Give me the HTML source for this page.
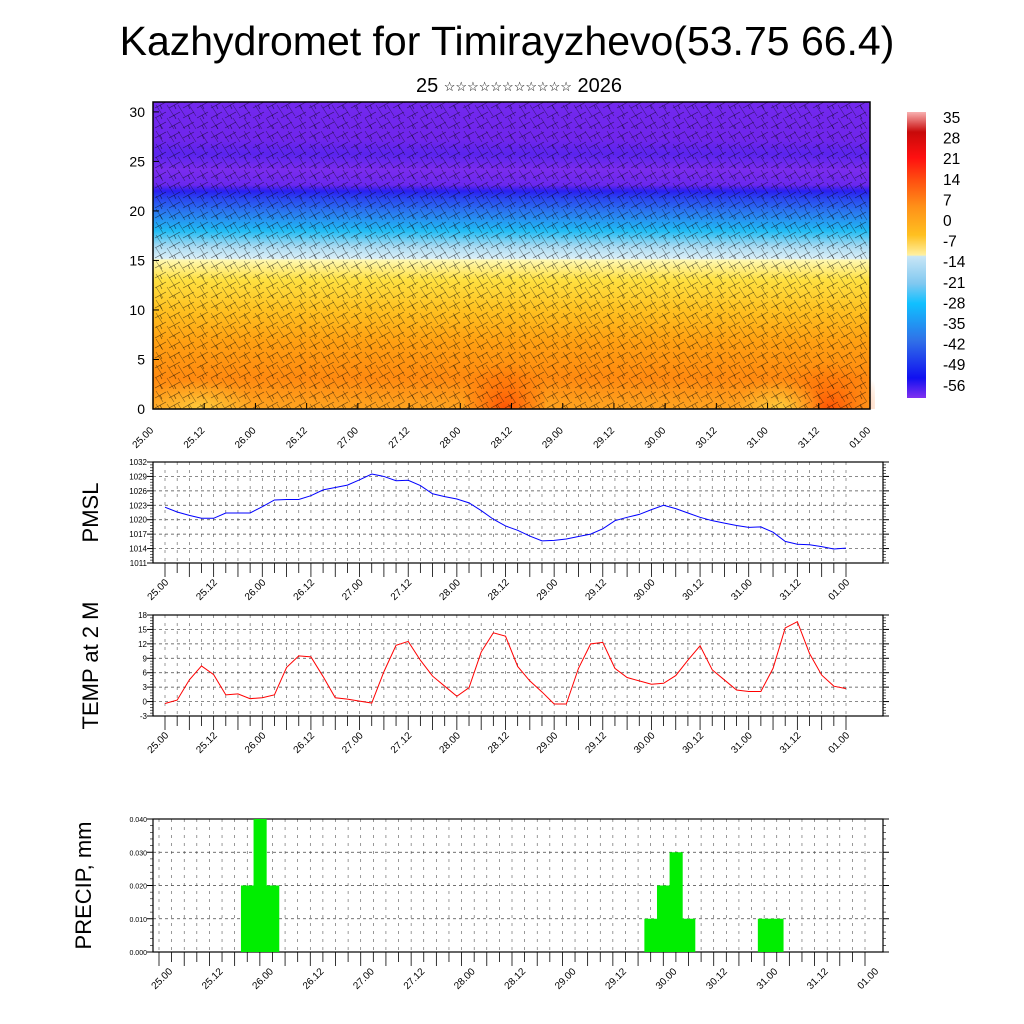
<!DOCTYPE html>
<html><head><meta charset="utf-8"><style>
html,body{margin:0;padding:0;background:#fff;}
svg{display:block;font-family:"Liberation Sans",sans-serif;}
</style></head><body>
<svg id="root" width="1024" height="1024" viewBox="0 0 1024 1024" xmlns="http://www.w3.org/2000/svg">
<defs>
<linearGradient id="fieldGrad" x1="0" y1="0" x2="0" y2="1">
<stop offset="0" stop-color="#7228ee"/>
<stop offset="0.12" stop-color="#7026ec"/>
<stop offset="0.17" stop-color="#5a24ee"/>
<stop offset="0.22" stop-color="#7a2cee"/>
<stop offset="0.27" stop-color="#6a28ee"/>
<stop offset="0.29" stop-color="#2a1ef0"/>
<stop offset="0.31" stop-color="#2a40f0"/>
<stop offset="0.36" stop-color="#2a7af0"/>
<stop offset="0.42" stop-color="#20bcf4"/>
<stop offset="0.47" stop-color="#a8daf2"/>
<stop offset="0.51" stop-color="#dcf0f8"/>
<stop offset="0.515" stop-color="#fff8b0"/>
<stop offset="0.58" stop-color="#ffe040"/>
<stop offset="0.68" stop-color="#ffc020"/>
<stop offset="0.78" stop-color="#ffa012"/>
<stop offset="0.9" stop-color="#ff8a10"/>
<stop offset="1" stop-color="#ffa420"/>
</linearGradient>
<linearGradient id="cbGrad" x1="0" y1="0" x2="0" y2="1">
<stop offset="0" stop-color="#f8b0b0"/>
<stop offset="0.07" stop-color="#c80a0a"/>
<stop offset="0.16" stop-color="#ff1010"/>
<stop offset="0.24" stop-color="#ff5010"/>
<stop offset="0.33" stop-color="#ff9018"/>
<stop offset="0.43" stop-color="#ffc020"/>
<stop offset="0.5" stop-color="#fff0a0"/>
<stop offset="0.505" stop-color="#c8e6f6"/>
<stop offset="0.6" stop-color="#80c8f0"/>
<stop offset="0.67" stop-color="#10c0ff"/>
<stop offset="0.8" stop-color="#3070e8"/>
<stop offset="0.93" stop-color="#1010f0"/>
<stop offset="1" stop-color="#8030f0"/>
</linearGradient>
<radialGradient id="hot" cx="0.5" cy="1" r="0.6">
<stop offset="0" stop-color="#ff4a00" stop-opacity="0.9"/>
<stop offset="1" stop-color="#ff6a00" stop-opacity="0"/>
</radialGradient>
<radialGradient id="warmY" cx="0.5" cy="1" r="0.6">
<stop offset="0" stop-color="#ffd040" stop-opacity="0.9"/>
<stop offset="1" stop-color="#ffc030" stop-opacity="0"/>
</radialGradient>
<pattern id="barbs" width="14" height="10" patternUnits="userSpaceOnUse">
<path d="M1 8 L12 2 M6 5 L8 9" stroke="#000" stroke-width="0.7" fill="none" opacity="0.6"/>
</pattern>
<pattern id="barbs2" width="11" height="13" patternUnits="userSpaceOnUse">
<path d="M2 1 L9 12" stroke="#000" stroke-width="0.6" fill="none" opacity="0.45"/>
</pattern>
</defs>
<text x="507" y="55" font-size="41" text-anchor="middle">Kazhydromet for Timirayzhevo(53.75 66.4)</text>
<text x="519" y="92" font-size="20" text-anchor="middle">25 <tspan font-size="13" dy="-1">☆☆☆☆☆☆☆☆☆☆☆</tspan><tspan dy="1"> 2026</tspan></text>
<g id="top"></g>
<g id="pmsl"></g>
<g id="temp"></g>
<g id="precip"></g>
</svg>
<script>
// ---- data ----
const dayLabels = ["25.00","25.12","26.00","26.12","27.00","27.12","28.00","28.12","29.00","29.12","30.00","30.12","31.00","31.12","01.00"];
const pmslValues = [1022.6,1021.6,1020.9,1020.3,1020.3,1021.4,1021.4,1021.4,1022.7,1024.1,1024.2,1024.2,1025.0,1026.2,1026.7,1027.2,1028.3,1029.5,1029.0,1028.1,1028.2,1027.1,1025.4,1024.8,1024.3,1023.5,1021.9,1020.1,1018.7,1017.8,1016.6,1015.6,1015.7,1016.0,1016.5,1017.0,1018.1,1019.8,1020.5,1021.1,1022.1,1023.0,1022.3,1021.4,1020.5,1019.8,1019.3,1018.8,1018.4,1018.5,1017.4,1015.5,1014.9,1014.8,1014.4,1013.9,1014.1];
const pmslTicks = [1011,1014,1017,1020,1023,1026,1029,1032];
const tempValues = [-0.4,0.3,4.5,7.4,5.6,1.4,1.6,0.6,0.8,1.4,7.1,9.5,9.3,5.2,0.8,0.5,0.1,-0.3,6.2,11.7,12.5,8.6,5.3,3.2,1.1,2.9,10.3,14.3,13.6,7.3,4.3,2.0,-0.5,-0.5,6.9,12.0,12.3,6.9,5.0,4.3,3.6,3.8,5.4,8.6,11.6,6.6,4.5,2.4,2.1,2.1,6.9,15.3,16.6,10.0,5.5,3.2,2.7];
const tempTicks = [-3,0,3,6,9,12,15,18];
const precipIndex = [7,8,9,39,40,41,42,48,49];
const precipValues = [0.02,0.04,0.02,0.01,0.02,0.03,0.01,0.01,0.01];
const precipTicks = ["0.000","0.010","0.020","0.030","0.040"];
const heightTicks = [0,5,10,15,20,25,30];
const cbLabels = ["35","28","21","14","7","0","-7","-14","-21","-28","-35","-42","-49","-56"];

const NS="http://www.w3.org/2000/svg";
function mk(parent,tag,attrs,text){const e=document.createElementNS(NS,tag);for(const k in attrs)e.setAttribute(k,attrs[k]);if(text!==undefined)e.textContent=text;parent.appendChild(e);return e;}

// ---- top panel ----
(function(){
const g=document.getElementById('top');
const L=153,R=870,T=102,B=409;
const yS=v=>B-(v/31)*(B-T);
const xS=i=>L+i*(R-L)/56;
let r=mk(g,'rect',{x:L,y:T,width:R-L,height:B-T,fill:'url(#fieldGrad)'});


[[505,40],[830,45]].forEach(([cx,w])=>{mk(g,'rect',{x:cx-w,y:330,width:2*w,height:79,fill:'url(#hot)'});});
[[200,50],[780,40]].forEach(([cx,w])=>{mk(g,'rect',{x:cx-w,y:360,width:2*w,height:49,fill:'url(#warmY)'});});
let b1=mk(g,'rect',{x:L,y:T,width:R-L,height:B-T,fill:'url(#barbs)'});


mk(g,'rect',{x:L,y:T,width:R-L,height:B-T,fill:'url(#barbs2)'});
let f=mk(g,'rect',{x:L,y:T,width:R-L,height:B-T,fill:'none',stroke:'#000','stroke-width':1.5});


heightTicks.forEach(v=>{const y=yS(v);
 mk(g,'line',{x1:L,x2:L+6,y1:y,y2:y,stroke:'#000'});
 const t=mk(g,'text',{x:L-8,y:y+5,'font-size':14,'text-anchor':'end'},v);
 
 });
dayLabels.forEach((s,i)=>{const x=xS(i*4);
 mk(g,'line',{x1:x,x2:x,y1:B,y2:B-6,stroke:'#000'});
 const t=mk(g,'text',{x:x+1,y:B+22,'font-size':10,'text-anchor':'end',transform:`rotate(-45 ${x+1} ${B+22})`},s);
 
 });
const cb=mk(g,'rect',{x:907,y:112,width:19,height:286,fill:'url(#cbGrad)'});


cbLabels.forEach((s,i)=>{const t=mk(g,'text',{x:943,y:123+i*20.6,'font-size':15.5},s);
 
 });
})();

// ---- generic time panel ----
function panel(gid,L,R,T,B,x0,x1,tickVals,tickText,vmin,vmax,title,titleX,labelSize,labDx){
 const g=document.getElementById(gid);
 const xS=i=>x0+i*(x1-x0)/56;
 const yS=v=>B-(v-vmin)/(vmax-vmin)*(B-T);
 for(let i=0;i<=56;i++){const x=xS(i);
  mk(g,'line',{x1:x,x2:x,y1:T,y2:B,stroke:'#555','stroke-width':0.6,'stroke-dasharray':'3 5'});
  mk(g,'line',{x1:x,x2:x,y1:B,y2:B+(i%2?10:14),stroke:'#000','stroke-width':0.8});}
 tickVals.forEach((v,j)=>{const y=yS(v);
  if(j>0&&j<tickVals.length-1)mk(g,'line',{x1:L,x2:R,y1:y,y2:y,stroke:'#444','stroke-width':0.7,'stroke-dasharray':'3 3'});
  mk(g,'line',{x1:L-6,x2:L,y1:y,y2:y,stroke:'#000'});
  mk(g,'line',{x1:R,x2:R+6,y1:y,y2:y,stroke:'#000'});
  const t=mk(g,'text',{x:L-6,y:y+3,'font-size':labelSize,'text-anchor':'end'},tickText[j]);
  
  
  if(j<tickVals.length-1){for(let m=1;m<5;m++){const ym=y-(m/5)*(yS(tickVals[j])-yS(tickVals[j+1]));
   mk(g,'line',{x1:L-3,x2:L,y1:ym,y2:ym,stroke:'#000','stroke-width':0.6});
   mk(g,'line',{x1:R,x2:R+3,y1:ym,y2:ym,stroke:'#000','stroke-width':0.6});}}
 });
 const f=mk(g,'rect',{x:L,y:T,width:R-L,height:B-T,fill:'none',stroke:'#000','stroke-width':1.2});
 
 
 dayLabels.forEach((s,i)=>{const x=xS(i*4)+labDx,y=B+20;
  const t=mk(g,'text',{x:x,y:y,'font-size':10,'text-anchor':'end',transform:`rotate(-45 ${x} ${y})`},s);
  
  });
 const cy=(T+B)/2;
 const tt=mk(g,'text',{x:titleX,y:cy,'font-size':22,'text-anchor':'middle',transform:`rotate(-90 ${titleX} ${cy})`},title);
 
 
 return {g,xS,yS};
}

(function(){
 const p=panel('pmsl',153,883,462,563,165,846,pmslTicks,pmslTicks.map(String),1011,1032,'PMSL',98,8,4);
 const pl=mk(p.g,'polyline',{points:pmslValues.map((v,i)=>p.xS(i)+','+p.yS(v)).join(' '),fill:'none',stroke:'#0000ff','stroke-width':1});
 
 
})();
(function(){
 const p=panel('temp',153,883,615,716,165,846,tempTicks,tempTicks.map(String),-3,18,'TEMP at 2 M',98,8,4);
 const pl=mk(p.g,'polyline',{points:tempValues.map((v,i)=>p.xS(i)+','+p.yS(v)).join(' '),fill:'none',stroke:'#ff0000','stroke-width':1});
 
 
})();
(function(){
 const tv=[0,0.01,0.02,0.03,0.04];
 const p=panel('precip',153,883,819,952,159,865,tv,precipTicks,0,0.04,'PRECIP, mm',91,7,14);
 const w=(865-159)/56;
 precipIndex.forEach((k,j)=>{const x=p.xS(k)-w/2,y=p.yS(precipValues[j]);
  const b=mk(p.g,'rect',{x:x,y:y,width:w+0.5,height:952-y,fill:'#00ee00'});
  
  });
})();
</script>
</body></html>
